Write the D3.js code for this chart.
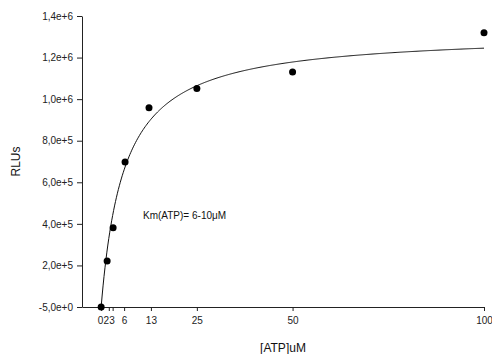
<!DOCTYPE html>
<html>
<head>
<meta charset="utf-8">
<script src="https://cdn.jsdelivr.net/npm/d3@7"></script>
<style>
  body { margin: 0; background: #fff; }
  svg { display: block; font-family: "Liberation Sans", Arial, sans-serif; }
</style>
</head>
<body>
<div id="chart"></div>
<script>
// ATP concentrations (uM) and luminescence readings
var atpConc = [0, 1.5625, 3.125, 6.25, 12.5, 25, 50, 100];
var rlus = [-5, 221000, 381000, 698000, 958000, 1051000, 1130000, 1319000];

var xTicks = [0, 2, 3, 6, 13, 25, 50, 100];
var yTicks = [-5, 2e5, 4e5, 6e5, 8e5, 1e6, 1.2e6, 1.4e6];

// Michaelis-Menten fit shown on the plot
var fitVmax = 1.32e6;
var fitKm = 6.0;

var width = 492, height = 354;
var margin = { left: 82, right: 8, top: 16, bottom: 47 };

var svg = d3.select("#chart").append("svg")
    .attr("width", width)
    .attr("height", height);

var x = d3.scaleLinear()
    .domain([-5, 100])
    .range([margin.left, width - margin.right]);

var y = d3.scaleLinear()
    .domain([-5, 1.4e6])
    .range([height - margin.bottom, margin.top]);

var fmt = function (v) { return v.toExponential(1).replace('.', ','); };

// y axis
svg.append("g")
    .attr("transform", "translate(" + margin.left + ",0)")
    .call(d3.axisLeft(y).tickValues(yTicks).tickFormat(fmt).tickSize(5).tickPadding(4).tickSizeOuter(0));

// x axis (line starts at the y axis)
var xAxis = svg.append("g")
    .attr("transform", "translate(0," + (height - margin.bottom) + ")")
    .call(d3.axisBottom(x).tickValues(xTicks).tickSize(4).tickPadding(6).tickSizeOuter(0));

// the three crowded labels sit shoulder to shoulder ("023")
var labelShift = { 0: -1, 2: -3, 3: -1 };
xAxis.selectAll(".tick text")
    .attr("dx", function (d) { return labelShift[d] || 0; });

svg.selectAll(".domain").attr("stroke", "#222");
svg.selectAll(".tick line").attr("stroke", "#222");
svg.selectAll(".tick text")
    .attr("fill", "#222")
    .style("font-size", "10px")
    .style("font-family", "Liberation Sans, Arial, sans-serif");

// fitted curve
var curveX = d3.range(0, 100.01, 0.25);
var line = d3.line()
    .x(function (d) { return x(d); })
    .y(function (d) { return y(fitVmax * d / (fitKm + d)); });

svg.append("path")
    .datum(curveX)
    .attr("fill", "none")
    .attr("stroke", "#111")
    .attr("stroke-width", 1)
    .attr("d", line);

// data points
svg.selectAll("circle.pt")
    .data(atpConc)
    .enter()
    .append("circle")
    .attr("class", "pt")
    .attr("cx", function (d) { return x(d); })
    .attr("cy", function (d, i) { return y(rlus[i]); })
    .attr("r", 3.5)
    .attr("fill", "#000");

// annotation
svg.append("text")
    .attr("x", 143)
    .attr("y", 219)
    .style("font-size", "10px")
    .attr("fill", "#111")
    .text("Km(ATP)= 6-10\u03BCM");

// axis titles
svg.append("text")
    .attr("x", (margin.left + width - margin.right) / 2)
    .attr("y", 352)
    .attr("text-anchor", "middle")
    .style("font-size", "12px")
    .attr("fill", "#111")
    .text("[ATP]uM");

svg.append("text")
    .attr("transform", "translate(20," + ((margin.top + height - margin.bottom) / 2) + ") rotate(-90)")
    .attr("text-anchor", "middle")
    .style("font-size", "12px")
    .attr("fill", "#111")
    .text("RLUs");
</script>
</body>
</html>
